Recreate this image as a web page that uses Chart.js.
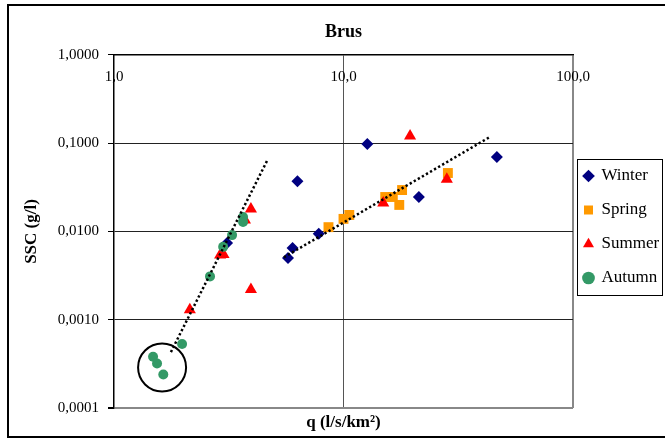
<!DOCTYPE html>
<html>
<head>
<meta charset="utf-8">
<script src="https://cdn.jsdelivr.net/npm/chart.js@4/dist/chart.umd.min.js"></script>
<style>
  html, body { margin: 0; padding: 0; background: #fff; }
  canvas { display: block; }
</style>
</head>
<body>
<canvas id="brus" width="665" height="438"></canvas>
<script>
// axis ticks
const xTicks = [1, 10, 100];
const yTicks = [0.0001, 0.001, 0.01, 0.1, 1];

// q (l/s/km2) and SSC (g/l) per season
const winterQ = [12.7, 6.3, 46.6, 21.3, 7.8, 6.0, 5.73, 3.11];
const winterSSC = [0.098, 0.037, 0.070, 0.0246, 0.0094, 0.0065, 0.0050, 0.0074];

const springQ = [28.5, 18.0, 16.4, 15.2, 17.5, 10.6, 10.0, 8.6];
const springSSC = [0.046, 0.0295, 0.0246, 0.0246, 0.020, 0.0154, 0.0139, 0.0112];

const summerQ = [19.5, 28.2, 14.9, 3.95, 3.72, 2.9, 3.0, 3.95, 2.14];
const summerSSC = [0.121, 0.039, 0.021, 0.018, 0.0135, 0.0054, 0.0055, 0.0022, 0.0013];

const autumnQ = [3.65, 3.65, 3.27, 2.99, 2.62, 1.98, 1.48, 1.54, 1.64];
const autumnSSC = [0.0146, 0.0128, 0.0091, 0.0067, 0.0031, 0.00053, 0.00038, 0.00032, 0.00024];

// trend lines (power fits, straight on log-log)
const trendLowQ = [1.77, 4.64];
const trendLowSSC = [0.00043, 0.063];
const trendHighQ = [5.5, 43.5];
const trendHighSSC = [0.0051, 0.118];

// circled low-flow samples
const ringQ = [1.62];
const ringSSC = [0.000288];

const pts = (xs, ys) => xs.map((x, i) => ({ x: x, y: ys[i] }));
const comma = (v, d) => Number(v).toFixed(d).replace('.', ',');

Chart.defaults.font.family = "'Liberation Serif', 'Times New Roman', serif";
Chart.defaults.color = '#000';

//bordes del grafico y de la leyenda
const marcos = {
    id: 'marcos',
    afterLayout(chart) {
        chart.legend.left -= 6;
        chart.legend.right -= 6;
    },
    afterDraw(chart) {
        const ctx = chart.ctx;
        const lg = chart.legend;
        const pad = lg.options.labels.padding;
        const colH = lg.columnSizes[0].height;
        const y0 = ((lg.top + pad) + (lg.bottom - colH)) / 2;
        ctx.save();
        ctx.strokeStyle = '#000';
        ctx.lineWidth = 1;
        ctx.strokeRect(Math.round(lg.left + 10) + 0.5, Math.round(y0 - 8.5) + 0.5, 85, colH);
        ctx.lineWidth = 2;
        ctx.strokeRect(8, 5, 700, 432);
        ctx.restore();
    }
};

new Chart(document.getElementById('brus').getContext('2d'), {
    type: 'scatter',
    data: {
        datasets: [
            {
                label: 'Winter', data: pts(winterQ, winterSSC), order: 4,
                pointStyle: 'rectRot', pointRadius: 6,
                backgroundColor: '#000080', borderColor: '#000080', borderWidth: 0
            },
            {
                label: 'Spring', data: pts(springQ, springSSC), order: 3,
                pointStyle: 'rect', pointRadius: 7,
                backgroundColor: '#FF9900', borderColor: '#FF9900', borderWidth: 0
            },
            {
                label: 'Summer', data: pts(summerQ, summerSSC), order: 2,
                pointStyle: 'triangle', pointRadius: 7,
                backgroundColor: '#FF0000', borderColor: '#FF0000', borderWidth: 0
            },
            {
                label: 'Autumn', data: pts(autumnQ, autumnSSC), order: 1,
                pointStyle: 'circle', pointRadius: 5,
                backgroundColor: '#339966', borderColor: '#339966', borderWidth: 0
            },
            {
                label: 'trend1', data: pts(trendLowQ, trendLowSSC), order: 0,
                showLine: true, pointRadius: 0, borderColor: '#000', borderWidth: 2.5,
                borderDash: [2.3, 2.4]
            },
            {
                label: 'trend2', data: pts(trendHighQ, trendHighSSC), order: 0,
                showLine: true, pointRadius: 0, borderColor: '#000', borderWidth: 2.5,
                borderDash: [2.3, 2.4]
            },
            {
                label: 'ring', data: pts(ringQ, ringSSC), order: 0,
                pointStyle: 'circle', pointRadius: 24,
                backgroundColor: 'rgba(0,0,0,0)', borderColor: '#000', borderWidth: 2
            }
        ]
    },
    options: {
        responsive: false,
        animation: false,
        events: [],
        layout: { padding: { left: 10, right: 0, top: 20, bottom: 4 } },
        scales: {
            x: {
                type: 'logarithmic',
                position: 'top',
                min: 1,
                max: 100,
                afterBuildTicks: (s) => { s.ticks = xTicks.map((v) => ({ value: v })); },
                afterFit: (s) => { s.height = 7.4; },
                border: { display: true, color: '#000', width: 1.5 },
                grid: {
                    drawTicks: false,
                    color: (c) => c.tick && c.tick.value === 10 ? '#555' : (c.tick && c.tick.value === 100 ? '#888' : 'rgba(0,0,0,0)'),
                    lineWidth: (c) => c.tick && c.tick.value === 100 ? 2 : 1
                },
                ticks: {
                    mirror: true,
                    padding: 13, autoSkip: false, maxRotation: 0,
                    font: { size: 15 },
                    callback: (v) => comma(v, 1)
                }
            },
            y: {
                type: 'logarithmic',
                min: 0.0001,
                max: 1,
                afterBuildTicks: (s) => { s.ticks = yTicks.map((v) => ({ value: v })); },
                afterFit: (s) => { s.width = 104; },
                border: { display: true, color: '#000', width: 1.5 },
                grid: {
                    tickLength: 6,
                    tickColor: '#000',
                    color: (c) => c.tick && c.tick.value === 1 ? 'rgba(0,0,0,0)' : (c.tick && c.tick.value === 0.0001 ? '#888' : '#222'),
                    lineWidth: (c) => c.tick && c.tick.value === 0.0001 ? 2 : 1
                },
                ticks: {
                    padding: 9,
                    font: { size: 15 },
                    callback: (v) => comma(v, 4)
                },
                title: {
                    display: true, text: 'SSC (g/l)',
                    font: { size: 17, weight: 'bold' },
                    padding: { top: 11, bottom: 0 }
                }
            }
        },
        plugins: {
            title: {
                display: true, text: 'Brus', fullSize: false,
                font: { size: 18, weight: 'bold' },
                padding: { top: 2, bottom: 4 }
            },
            subtitle: {
                display: true, text: 'q (l/s/km²)', position: 'bottom', fullSize: false,
                font: { size: 17, weight: 'bold' }, color: '#000',
                padding: { top: 4.8, bottom: 0.8 }
            },
            legend: {
                position: 'right',
                maxWidth: 92,
                labels: {
                    usePointStyle: true,
                    boxWidth: 9,
                    boxHeight: 9,
                    padding: 17,
                    font: { size: 17 },
                    filter: (item) => item.datasetIndex < 4,
                    sort: (a, b) => a.datasetIndex - b.datasetIndex
                }
            },
            tooltip: { enabled: false }
        }
    },
    plugins: [marcos]
});
</script>
</body>
</html>
